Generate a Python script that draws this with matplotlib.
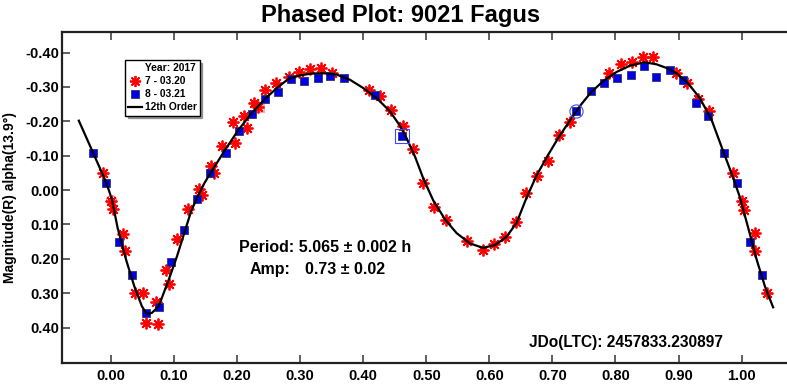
"""
Phased plot (lightcurve) for 9021 Fagus, 12th order Fourier fit.
Saves out.png.
"""

import matplotlib
matplotlib.use("Agg")
import matplotlib.pyplot as plt
from matplotlib.lines import Line2D

plt.rcParams["font.family"] = ["Liberation Sans", "DejaVu Sans"]
plt.rcParams["font.weight"] = "bold"

# --- data ---
# session 7 (2017-03-20), red asterisks
red_phase = [-0.013, 0.000, 0.003, 0.0195, 0.022, 0.038, 0.050, 0.0555, 0.071, 0.074,
             0.088, 0.092, 0.105, 0.1226, 0.140, 0.145, 0.158, 0.164, 0.1755, 0.194,
             0.197, 0.211, 0.215, 0.2267, 0.2336, 0.245, 0.2616, 0.282, 0.298, 0.315,
             0.3325, 0.351, 0.409, 0.4265, 0.444, 0.4625, 0.479, 0.495, 0.5126, 0.532,
             0.564, 0.590, 0.6077, 0.6247, 0.6417, 0.658, 0.676, 0.6934, 0.711, 0.728,
             0.790, 0.808, 0.8256, 0.844, 0.860, 0.896, 0.914, 0.931, 0.948, 0.987,
             1.000, 1.004, 1.021, 1.022, 1.040]
red_mag = [-0.049, 0.033, 0.056, 0.128, 0.177, 0.299, 0.299, 0.387, 0.326, 0.389,
           0.233, 0.274, 0.142, 0.055, -0.004, 0.013, -0.069, -0.051, -0.127, -0.197,
           -0.137, -0.216, -0.182, -0.253, -0.243, -0.292, -0.313, -0.330, -0.344, -0.352,
           -0.354, -0.342, -0.292, -0.274, -0.233, -0.187, -0.119, -0.020, 0.049, 0.086,
           0.147, 0.175, 0.157, 0.135, 0.094, 0.007, -0.042, -0.086, -0.161, -0.199,
           -0.342, -0.367, -0.374, -0.388, -0.387, -0.340, -0.311, -0.265, -0.229, -0.049,
           0.033, 0.058, 0.125, 0.177, 0.298]

# session 8 (2017-03-21), blue squares
blue_phase = [-0.028, -0.008, 0.0127, 0.034, 0.055, 0.0756, 0.095, 0.116, 0.137, 0.157,
              0.182, 0.2035, 0.2236, 0.244, 0.265, 0.286, 0.3065, 0.3277, 0.348, 0.369,
              0.419, 0.461, 0.738, 0.761, 0.782, 0.803, 0.824, 0.845, 0.865, 0.886,
              0.9065, 0.9276, 0.947, 0.972, 0.992, 1.013, 1.033]
blue_mag = [-0.109, -0.022, 0.152, 0.246, 0.358, 0.340, 0.210, 0.117, 0.026, -0.051,
            -0.108, -0.173, -0.222, -0.264, -0.284, -0.322, -0.316, -0.327, -0.331, -0.327,
            -0.278, -0.158, -0.231, -0.289, -0.313, -0.327, -0.335, -0.361, -0.330, -0.348,
            -0.321, -0.253, -0.216, -0.109, -0.020, 0.152, 0.246]

# 12th order fit, traced
fit_phase = [-0.051, -0.0285, -0.0075, 0.0016, 0.0105, 0.024, 0.037, 0.049, 0.057, 0.065,
             0.0756, 0.0915, 0.1046, 0.117, 0.127, 0.137, 0.148, 0.160, 0.181, 0.202,
             0.223, 0.244, 0.263, 0.281, 0.300, 0.318, 0.337, 0.358, 0.379, 0.400,
             0.421, 0.442, 0.458, 0.469, 0.482, 0.495, 0.511, 0.530, 0.548, 0.569,
             0.590, 0.609, 0.627, 0.643, 0.659, 0.675, 0.693, 0.711, 0.728, 0.745,
             0.761, 0.781, 0.802, 0.823, 0.846, 0.865, 0.880, 0.897, 0.915, 0.934,
             0.9525, 0.968, 0.984, 0.997, 1.0105, 1.024, 1.037, 1.050]
fit_mag = [-0.202, -0.109, -0.022, 0.028, 0.110, 0.203, 0.280, 0.338, 0.361, 0.357,
           0.338, 0.261, 0.193, 0.120, 0.062, 0.020, -0.020, -0.056, -0.117, -0.175,
           -0.224, -0.265, -0.297, -0.323, -0.334, -0.339, -0.340, -0.336, -0.321, -0.297,
           -0.268, -0.230, -0.188, -0.150, -0.098, -0.035, 0.030, 0.086, 0.125, 0.155,
           0.168, 0.160, 0.136, 0.096, 0.022, -0.043, -0.102, -0.157, -0.203, -0.248,
           -0.284, -0.318, -0.344, -0.362, -0.372, -0.366, -0.356, -0.340, -0.311, -0.267,
           -0.204, -0.127, -0.049, 0.019, 0.110, 0.203, 0.280, 0.341]

# marked (selected) points
red_circle = (0.000, 0.030)
pink_square = (0.236, -0.238)
blue_square = (0.461, -0.158)
blue_circle = (0.738, -0.231)

ticks_x = [0.0, 0.1, 0.2, 0.3, 0.4, 0.5, 0.6, 0.7, 0.8, 0.9, 1.0]
ticks_y = [-0.4, -0.3, -0.2, -0.1, 0.0, 0.1, 0.2, 0.3, 0.4]

RED = "#FF0000"
BLUE = "#0000E8"
ASTER = (8, 2, 0)


def main():
    fig = plt.figure(figsize=(7.87, 3.85), dpi=100)
    ax = fig.add_axes([62 / 787, 1 - 363 / 385, 1 - 62 / 787, 331 / 385])

    ax.plot(red_phase, red_mag, ls="none", marker=ASTER, ms=8.5, mew=1.3,
            color=RED, zorder=3)
    ax.plot(blue_phase, blue_mag, ls="none", marker="s", ms=6, mew=0.6,
            mfc=BLUE, mec="#333366", zorder=4)
    ax.plot(fit_phase, fit_mag, color="black", lw=1.6, zorder=5)

    # selected points
    ax.plot(*red_circle, marker="o", ms=7, mfc="none", mec=RED, mew=0.8, alpha=0.6, zorder=6)
    ax.plot(*pink_square, marker="s", ms=6, mfc="#FFB0B0", mec="#FF8080", mew=0.6,
            alpha=0.7, zorder=2)
    ax.plot(*blue_square, marker="s", ms=9.5, mfc="none", mec="#4444FF", mew=0.8, zorder=6)
    ax.plot(*blue_circle, marker="o", ms=9.5, mfc="none", mec="#4444FF", mew=0.8, zorder=6)

    ax.set_xlim(-0.0777, 1.072)
    ax.set_ylim(0.503, -0.460)
    ax.set_xticks(ticks_x)
    ax.set_xticklabels([f"{t:.2f}" for t in ticks_x])
    ax.set_yticks(ticks_y)
    ax.set_yticklabels([f"{t:.2f}" for t in ticks_y])
    ax.tick_params(axis="x", direction="in", top=True, length=6, width=1.2,
                   labelsize=10.5, pad=4, color="#444444")
    ax.tick_params(axis="y", direction="in", length=6, width=1.2,
                   labelsize=10.5, pad=2, color="#444444")
    for side in ["left", "top", "bottom"]:
        ax.spines[side].set_linewidth(1.6)
        ax.spines[side].set_color("#222222")
    ax.spines["right"].set_visible(False)

    ax.set_ylabel("Magnitude(R) alpha(13.9°)", fontsize=10, fontweight="bold", labelpad=6)

    fig.text(0.5096, 0.961, "Phased Plot: 9021 Fagus", ha="center", va="center",
             fontsize=17, fontweight="heavy")

    ax.text(0.340, 0.168, "Period: 5.065 ± 0.002 h", ha="center", va="center",
            fontsize=11.5, fontweight="bold")
    ax.text(0.2195, 0.232, "Amp:", ha="left", va="center", fontsize=11.5, fontweight="bold")
    ax.text(0.3075, 0.232, "0.73 ± 0.02", ha="left", va="center", fontsize=11.5,
            fontweight="bold")
    ax.text(0.663, 0.444, "JDo(LTC): 2457833.230897", ha="left", va="center",
            fontsize=11.2, fontweight="bold")

    handles = [
        Line2D([], [], ls="none"),
        Line2D([], [], ls="none", marker=ASTER, ms=8, mew=1.3, color=RED),
        Line2D([], [], ls="none", marker="s", ms=6, mfc=BLUE, mec="#333366", mew=0.6),
        Line2D([], [], color="black", lw=1.6),
    ]
    labels = ["Year: 2017", "7 - 03.20", "8 - 03.21", "12th Order"]
    leg = ax.legend(handles, labels, loc="upper left", bbox_to_anchor=(0.087, 0.915),
                    borderaxespad=0, fontsize=7.4, handlelength=1.3, handletextpad=0.3,
                    labelspacing=0.3, borderpad=0.3, fancybox=False, shadow=True,
                    framealpha=1, edgecolor="black")
    leg.get_frame().set_linewidth(1.0)
    for t in leg.get_texts():
        t.set_fontweight("bold")

    fig.savefig("out.png", dpi=100)
    plt.close(fig)


if __name__ == "__main__":
    main()
